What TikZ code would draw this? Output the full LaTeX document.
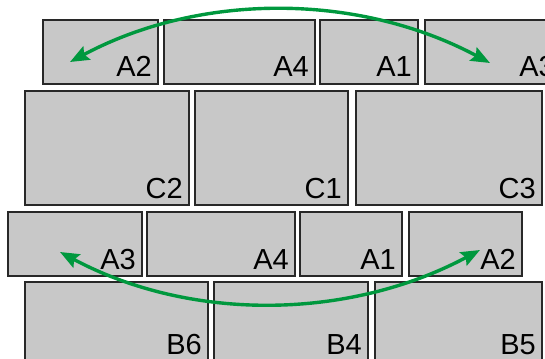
\documentclass[tikz,border=0pt]{standalone}
\usepackage{fontspec}
\setmainfont{Liberation Sans}
\usetikzlibrary{arrows.meta}
\definecolor{boxfill}{RGB}{200,200,200}
\definecolor{boxline}{RGB}{40,40,40}
\definecolor{arrgreen}{RGB}{0,152,62}
\tikzset{
  box/.style={fill=boxfill,draw=boxline,line width=2pt},
  lbl/.style={anchor=base east,inner sep=0pt,font=\fontsize{29}{29}\selectfont},
  swap/.style={draw=arrgreen,line width=3.4pt,
    {Stealth[length=19pt,width=15pt,inset=3pt]}-{Stealth[length=19pt,width=15pt,inset=3pt]}}
}
\newcommand{\bx}[6]{%
  \draw[box] (#2,#3) rectangle (#4,#5);
  \node[lbl] (#1) at ({#4-6},{#5-7}) {#6};}
\begin{document}
\begin{tikzpicture}[x=1pt,y=-1pt]
\useasboundingbox (0,0) rectangle (545,358);
\clip (0,0) rectangle (545,358);
% row 1
\bx{ra2}{43}{20}{158}{84}{A2}
\bx{ra4}{164}{20}{315}{84}{A4}
\bx{ra1}{320}{20}{418}{84}{A1}
\bx{ra3}{425}{20}{561}{84}{A3}
% row 2
\bx{c2}{25}{91}{189}{205}{C2}
\bx{c1}{195}{91}{348}{205}{C1}
\bx{c3}{356}{91}{542}{205}{C3}
% row 3
\bx{sa3}{8}{212}{142}{276}{A3}
\bx{sa4}{147}{212}{295}{276}{A4}
\bx{sa1}{300}{212}{402}{276}{A1}
\bx{sa2}{409}{212}{522}{276}{A2}
% row 4 (lower edge lies below the picture)
\bx{b6}{25}{282}{208}{361}{B6}
\bx{b4}{214}{282}{368}{361}{B4}
\bx{b5}{375}{282}{542}{361}{B5}
% arrows
\coordinate (t1) at (70,62);
\coordinate (t2) at (490,63);
\coordinate (u1) at (60,252);
\coordinate (u2) at (480,250);
\draw[swap] (t1) .. controls (201,-8) and (359,-7) .. (t2);
\draw[swap] (u1) .. controls (191,322) and (349,320) .. (u2);
\end{tikzpicture}
\end{document}
